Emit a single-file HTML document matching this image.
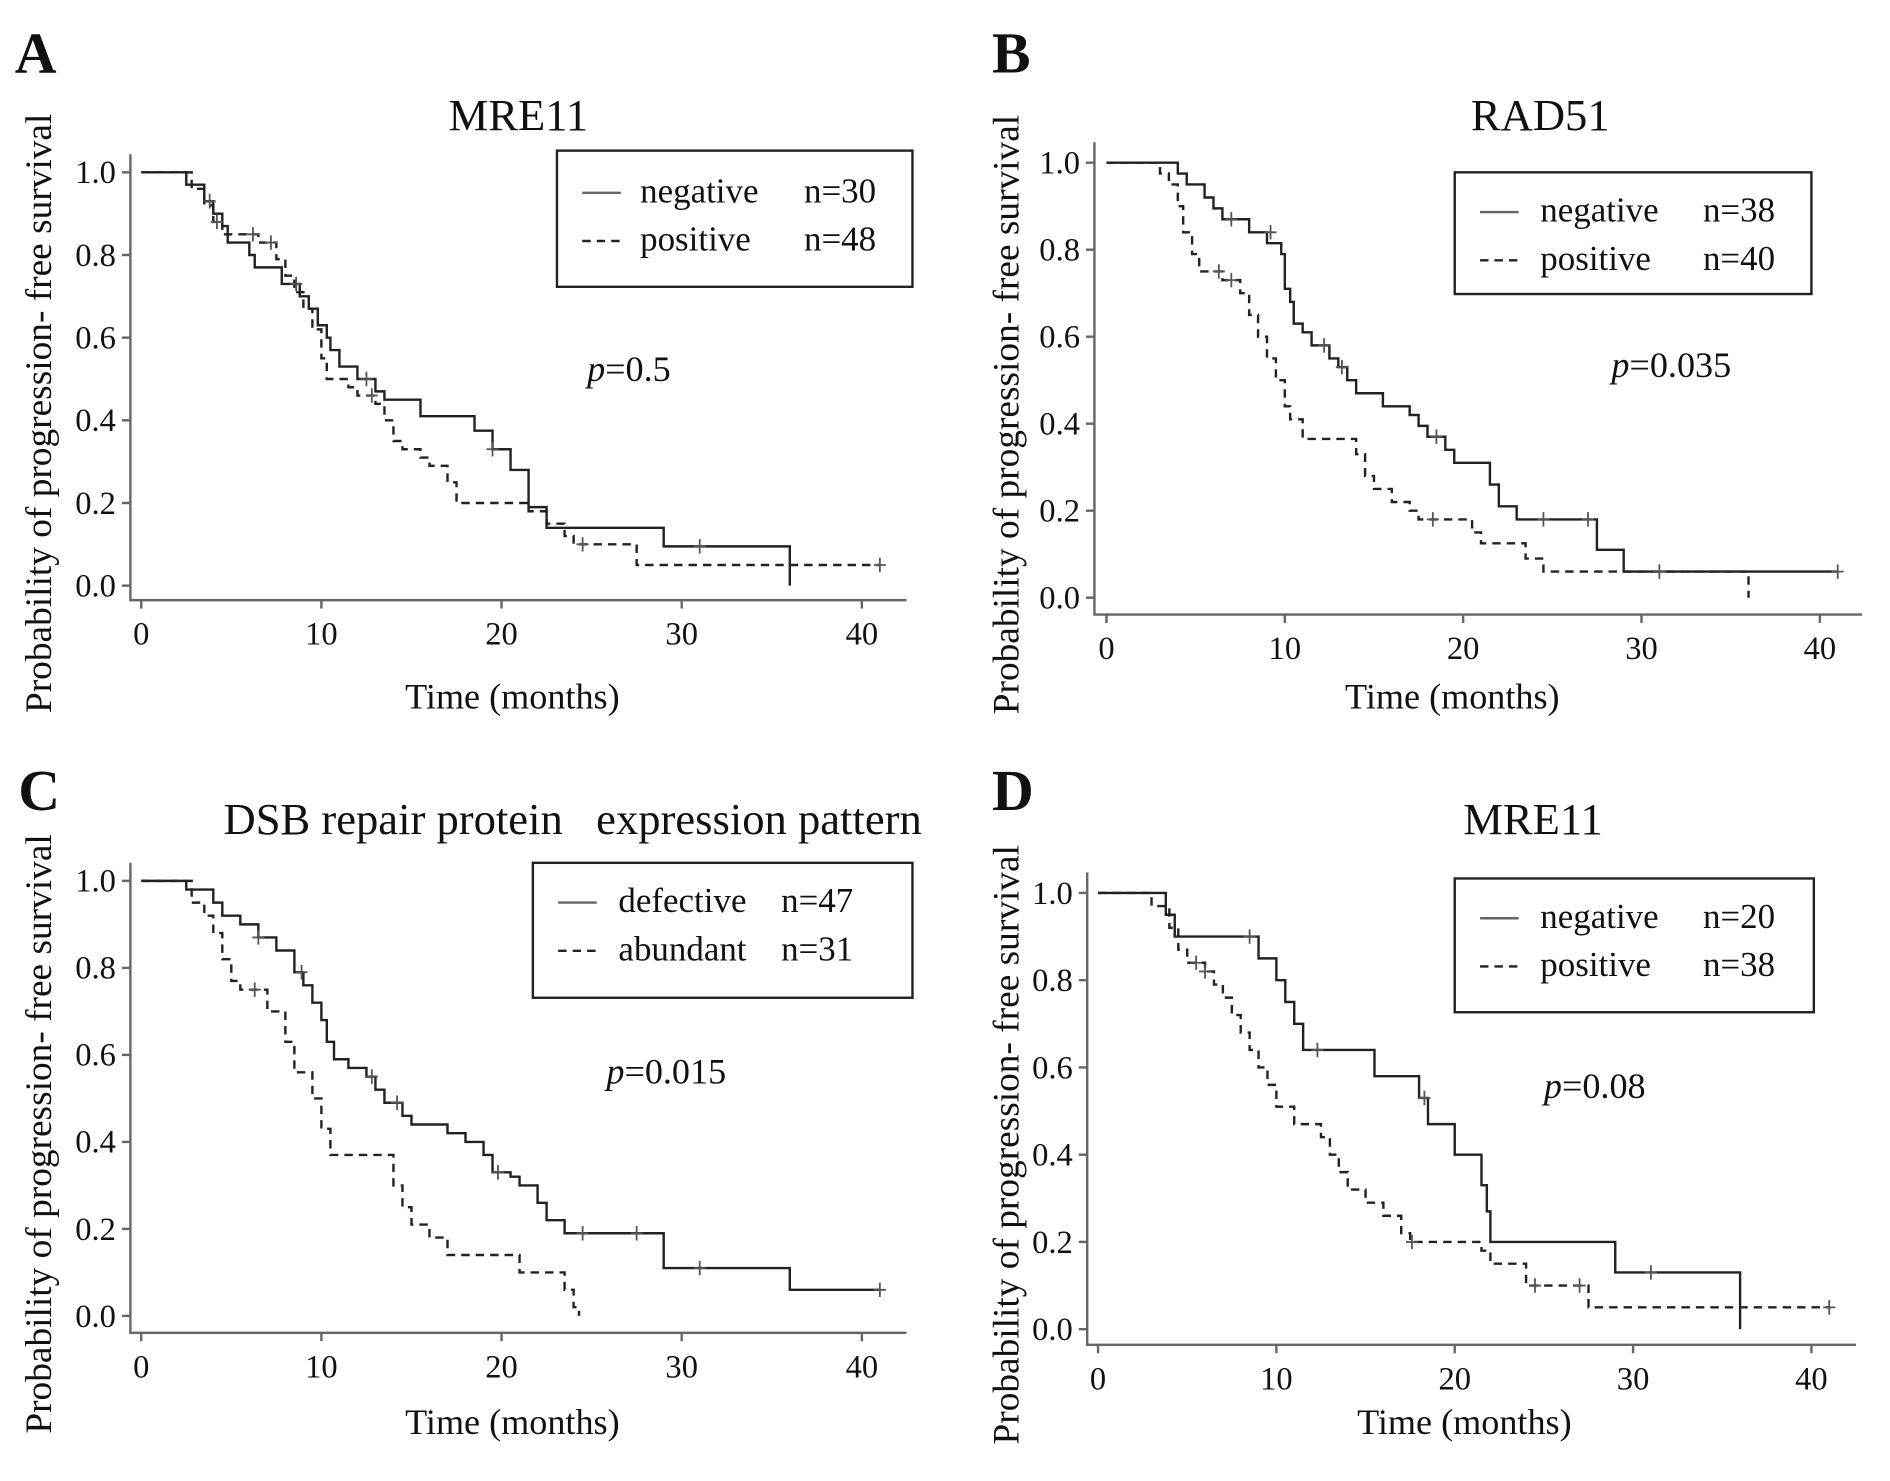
<!DOCTYPE html>
<html><head><meta charset="utf-8"><style>
html,body{margin:0;padding:0;background:#fff}
svg{display:block}
text{font-family:"Liberation Serif",serif;fill:#111;white-space:pre}
</style></head><body>
<svg id="fig" width="1890" height="1481" viewBox="0 0 1568 1229" xmlns="http://www.w3.org/2000/svg"></svg>
<script>
const xTicks=[0,10,20,30,40];
const yTicks=[0.0,0.2,0.4,0.6,0.8,1.0];
// Panel A
const aNeg=[[0,1],[2.5,0.97],[3.5,0.93],[4,0.9],[4.5,0.87],[4.8,0.83],[6,0.8],[6.3,0.77],[7.8,0.73],[8.8,0.7],[9.3,0.67],[9.8,0.63],[10.3,0.6],[10.5,0.57],[11,0.53],[12,0.5],[13,0.47],[13.5,0.45],[15.5,0.41],[18.5,0.375],[19.5,0.33],[20.5,0.28],[21.5,0.19],[22.5,0.14],[29,0.095],[36,0]];
const aNegEnd=36;
const aPos=[[0,1],[2.8,0.96],[3.5,0.92],[4,0.88],[4.5,0.85],[6.5,0.83],[7.5,0.79],[8,0.75],[8.5,0.71],[9,0.67],[9.5,0.62],[10,0.55],[10.3,0.5],[11.5,0.48],[12,0.46],[13,0.44],[13.5,0.4],[14,0.35],[14.5,0.33],[15.5,0.31],[16,0.29],[17,0.25],[17.5,0.2],[21.5,0.18],[22.5,0.15],[23.5,0.12],[24,0.1],[27.5,0.05]];
const aPosEnd=41;
// Panel B
const bNeg=[[0,1],[4,0.975],[4.5,0.95],[5.5,0.92],[6,0.895],[6.5,0.87],[8,0.84],[9,0.815],[9.8,0.79],[10,0.71],[10.3,0.68],[10.5,0.63],[11,0.61],[11.5,0.58],[12.5,0.55],[13,0.53],[13.5,0.5],[14,0.47],[15.5,0.44],[17,0.42],[17.5,0.395],[18,0.37],[19,0.34],[19.5,0.31],[21.5,0.26],[22,0.21],[23,0.18],[27.5,0.11],[29,0.06]];
const bNegEnd=41;
const bPos=[[0,1],[3,0.975],[3.5,0.95],[4,0.9],[4.3,0.84],[4.8,0.79],[5.2,0.75],[6.5,0.73],[7.5,0.7],[8,0.65],[8.5,0.6],[9,0.55],[9.5,0.5],[10,0.44],[10.3,0.41],[11,0.365],[14,0.33],[14.5,0.28],[15,0.25],[16,0.22],[17,0.2],[17.5,0.18],[20.5,0.15],[21,0.125],[23.5,0.09],[24.5,0.06],[36,0]];
const bPosEnd=36;
// Panel C
const cDef=[[0,1],[2.5,0.98],[4,0.95],[4.5,0.92],[5.5,0.9],[6.5,0.87],[7.5,0.84],[8.5,0.79],[9,0.76],[9.5,0.72],[10,0.68],[10.3,0.63],[10.7,0.59],[11.5,0.57],[12.5,0.55],[13,0.52],[13.5,0.49],[14.5,0.46],[15,0.44],[17,0.42],[18,0.4],[19,0.37],[19.5,0.33],[20.5,0.32],[21,0.3],[22,0.26],[22.5,0.22],[23.5,0.19],[29,0.11],[36,0.06]];
const cDefEnd=41;
const cAbu=[[0,1],[2.8,0.95],[3.5,0.92],[4,0.88],[4.5,0.82],[5,0.77],[5.5,0.75],[7,0.7],[8,0.63],[8.5,0.56],[9.5,0.5],[10,0.43],[10.5,0.37],[14,0.3],[14.5,0.25],[15,0.21],[16,0.18],[17,0.14],[21,0.1],[23.5,0.06],[24,0.02],[24.3,0]];
const cAbuEnd=24.3;
// Panel D
const dNeg=[[0,1],[3.8,0.95],[4.3,0.9],[9,0.85],[10,0.8],[10.5,0.75],[11,0.7],[11.5,0.64],[15.5,0.58],[18,0.53],[18.5,0.47],[20,0.4],[21.5,0.33],[21.8,0.27],[22,0.2],[29,0.13],[36,0]];
const dNegEnd=36;
const dPos=[[0,1],[3,0.97],[4,0.92],[4.5,0.87],[5,0.84],[6,0.82],[6.5,0.79],[7,0.76],[7.5,0.72],[8,0.68],[8.5,0.64],[9,0.6],[9.5,0.56],[10,0.51],[11,0.47],[12.5,0.44],[13,0.4],[13.5,0.36],[14,0.32],[15,0.29],[16,0.26],[17,0.22],[17.5,0.2],[21.5,0.18],[22,0.15],[24,0.1],[27.5,0.05]];
const dPosEnd=41;
const censA1=[[3.8,0.93],[8.6,0.73],[12.5,0.5],[19.5,0.33],[31,0.095]];
const censA2=[[4.2,0.88],[6.2,0.85],[7.2,0.83],[12.8,0.46],[24.5,0.1],[41,0.05]];
const censB1=[[7,0.87],[9.2,0.84],[12.2,0.58],[13.2,0.53],[18.5,0.37],[24.5,0.18],[27,0.18],[31,0.06],[41,0.06]];
const censB2=[[6.3,0.75],[7,0.73],[18.3,0.18]];
const censC1=[[6.5,0.87],[8.9,0.79],[12.8,0.55],[14.2,0.49],[19.8,0.33],[24.5,0.19],[27.5,0.19],[31,0.11],[41,0.06]];
const censC2=[[6.3,0.75]];
const censD1=[[8.5,0.9],[12.3,0.64],[18.3,0.53],[31,0.13]];
const censD2=[[5.5,0.84],[6,0.82],[17.6,0.2],[24.5,0.1],[27,0.1],[41,0.05]];

const NS="http://www.w3.org/2000/svg";
const svg=document.getElementById('fig');
function mk(tag,attrs,parent){const e=document.createElementNS(NS,tag);for(const k in attrs)e.setAttribute(k,attrs[k]);(parent||svg).appendChild(e);return e;}
function txt(s,attrs,parent){const e=mk('text',attrs,parent);e.textContent=s;return e;}

const panels=[
 {id:'a',letter:'A',lx:12,ly:60,title:'MRE11',tx:430,ty:108,x0:117,x40:715,y1:143,y0:486,axL:108,axB:498,axR:752,axT:128,
  s1:aNeg,e1:aNegEnd,s2:aPos,e2:aPosEnd,c1:censA1,c2:censA2,
  leg:[462,125,757,238],l1:['negative','n=30'],l2:['positive','n=48'],legLx:483,legTx:531,legNx:667,legY:[168,208],p:'0.5',px:487,py:316,xl:425,xly:588,yl:42},
 {id:'b',letter:'B',lx:823,ly:60,title:'RAD51',tx:1278,ty:108,x0:918,x40:1510,y1:135,y0:496,axL:908,axB:510,axR:1545,axT:118,
  s1:bNeg,e1:bNegEnd,s2:bPos,e2:bPosEnd,c1:censB1,c2:censB2,
  leg:[1207,143,1503,244],l1:['negative','n=38'],l2:['positive','n=40'],legLx:1228,legTx:1278,legNx:1413,legY:[184,224],p:'0.035',px:1337,py:313,xl:1205,xly:588,yl:845},
 {id:'c',letter:'C',lx:15,ly:672,title:'DSB repair protein   expression pattern',tx:475,ty:692,x0:117,x40:715,y1:731,y0:1092,axL:108,axB:1106,axR:752,axT:716,
  s1:cDef,e1:cDefEnd,s2:cAbu,e2:cAbuEnd,c1:censC1,c2:censC2,
  leg:[442,716,757,828],l1:['defective','n=47'],l2:['abundant','n=31'],legLx:463,legTx:513,legNx:648,legY:[757,797],p:'0.015',px:503,py:899,xl:425,xly:1190,yl:42},
 {id:'d',letter:'D',lx:823,ly:672,title:'MRE11',tx:1272,ty:692,x0:911,x40:1503,y1:741,y0:1103,axL:902,axB:1116,axR:1540,axT:724,
  s1:dNeg,e1:dNegEnd,s2:dPos,e2:dPosEnd,c1:censD1,c2:censD2,
  leg:[1207,729,1505,840],l1:['negative','n=20'],l2:['positive','n=38'],legLx:1228,legTx:1278,legNx:1413,legY:[770,810],p:'0.08',px:1281,py:911,xl:1215,xly:1190,yl:845}
];

panels.forEach(P=>{
  const g=mk('g',{});
  
  
  const sx=t=>P.x0+(P.x40-P.x0)*t/40;
  const sy=v=>P.y0+(P.y1-P.y0)*v;
  const L=txt(P.letter,{x:P.lx,y:P.ly,'font-size':48,'font-weight':'bold'},g);
  
  
  const T=txt(P.title,{x:P.tx,y:P.ty,'font-size':37,'text-anchor':'middle'},g);
  
  
  const ax=mk('path',{d:`M${P.axL},${P.axT}V${P.axB}H${P.axR}`,stroke:'#666','stroke-width':2,fill:'none'},g);
  
  
  xTicks.forEach(t=>{
    mk('line',{x1:sx(t),x2:sx(t),y1:P.axB,y2:P.axB+7,stroke:'#666','stroke-width':2},g);
    const e=txt(String(t),{x:sx(t),y:P.axB+37,'font-size':27,'text-anchor':'middle'},g);
    
    
  });
  yTicks.forEach(v=>{
    mk('line',{x1:P.axL-7,x2:P.axL,y1:sy(v),y2:sy(v),stroke:'#666','stroke-width':2},g);
    const e=txt(v.toFixed(1),{x:P.axL-12,y:sy(v)+9,'font-size':27,'text-anchor':'end'},g);
    
    
  });
  const xl=txt('Time (months)',{x:P.xl,y:P.xly,'font-size':30,'text-anchor':'middle'},g);
  
  
  const yc=(P.axT+P.axB)/2+30;
  const yl=txt('Probability of progression- free survival',{x:0,y:0,'font-size':31,'text-anchor':'middle',transform:`translate(${P.yl},${yc}) rotate(-90)`},g);
  
  
  function curve(data,end,dash,name){
    let d=`M${sx(data[0][0])},${sy(data[0][1])}`;
    for(let i=1;i<data.length;i++){d+=`H${sx(data[i][0])}V${sy(data[i][1])}`;}
    d+=`H${sx(end)}`;
    const p=mk('path',{d:d,stroke:'#222','stroke-width':2,fill:'none','stroke-dasharray':dash?'7,5':'none'},g);
    
    
  }
  curve(P.s1,P.e1,false,'curve-'+P.l1[0]);
  curve(P.s2,P.e2,true,'curve-'+P.l2[0]);
  [P.c1,P.c2].forEach(arr=>arr.forEach(c=>{
    const m=mk('path',{d:`M${sx(c[0])},${sy(c[1])-6}v12M${sx(c[0])-5},${sy(c[1])}h10`,stroke:'#555','stroke-width':1.5},g);
    
    
  }));
  const lg=mk('g',{},g);
  
  
  mk('rect',{x:P.leg[0],y:P.leg[1],width:P.leg[2]-P.leg[0],height:P.leg[3]-P.leg[1],fill:'#fff',stroke:'#222','stroke-width':2},lg);
  [[P.l1,false],[P.l2,true]].forEach((e,i)=>{
    const y=P.legY[i];
    mk('line',{x1:P.legLx,x2:P.legLx+32,y1:y-8,y2:y-8,stroke:i?'#222':'#666','stroke-width':2,'stroke-dasharray':i?'7,5':'none'},lg);
    const a=txt(e[0][0],{x:P.legTx,y:y,'font-size':29},lg);
    
    
    const b=txt(e[0][1],{x:P.legNx,y:y,'font-size':29},lg);
    
    
  });
  const p=mk('text',{x:P.px,y:P.py,'font-size':30},g);
  
  
  const it=mk('tspan',{'font-style':'italic'},p);it.textContent='p';
  const r=mk('tspan',{},p);r.textContent='='+P.p;
});
</script>
</body></html>
